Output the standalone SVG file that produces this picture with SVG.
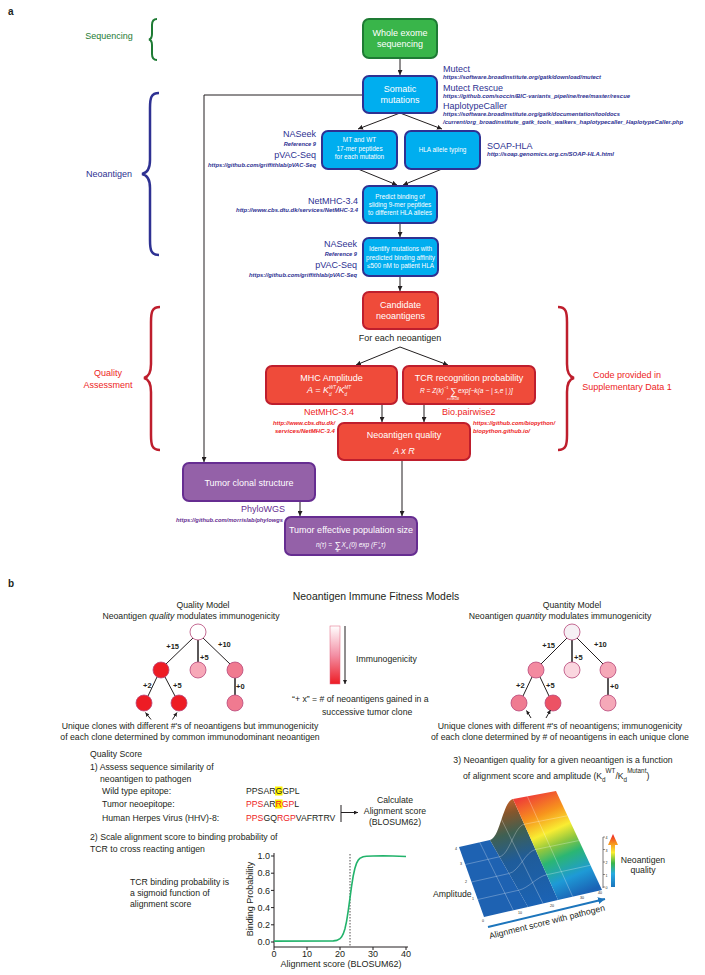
<svg xmlns="http://www.w3.org/2000/svg" width="705" height="975" viewBox="0 0 705 975">
<style>
text{font-family:"Liberation Sans",Arial,Helvetica,sans-serif;}
.nt{fill:#fff;font-size:9px;text-anchor:middle}
.st{fill:#fff;font-size:6.4px;text-anchor:middle}
.bl{fill:#2e3192;font-size:9px}
.url{fill:#2e3192;font-size:5.7px;font-style:italic;font-weight:bold}
.rd{fill:#ed1c24;font-size:9px}
.rurl{fill:#ed1c24;font-size:5.7px;font-style:italic;font-weight:bold}
.pu{fill:#662d91;font-size:9px}
.purl{fill:#662d91;font-size:5.7px;font-style:italic;font-weight:bold}
.g{fill:#39b54a;stroke:#1e7b34;stroke-width:2}
.b{fill:#00aeef;stroke:#2e3192;stroke-width:2}
.r{fill:#ef4b3a;stroke:#be1e2d;stroke-width:2}
.p{fill:#9461a8;stroke:#662d91;stroke-width:2}
.c{stroke:#231f20;stroke-width:1;fill:none}
.bt{font-size:8.7px;fill:#231f20}
.lbl{font-size:7.5px;font-weight:bold;fill:#231f20}
.nd{stroke:#b8477a;stroke-width:0.8}
.tk{font-size:9px;fill:#231f20}
.grid{stroke:#fff;stroke-opacity:0.55;stroke-width:0.5;fill:none}
.tiny{font-size:3.6px;fill:#231f20}
</style>
<defs>
<marker id="ah" viewBox="0 0 10 10" refX="10" refY="5" markerWidth="5" markerHeight="5" markerUnits="userSpaceOnUse" orient="auto"><path d="M0,0L10,5L0,10z" fill="#231f20"/></marker>
<marker id="ahs" viewBox="0 0 10 10" refX="10" refY="5" markerWidth="4" markerHeight="4" markerUnits="userSpaceOnUse" orient="auto"><path d="M0,0L10,5L0,10z" fill="#231f20"/></marker>
<marker id="ahb" viewBox="0 0 10 10" refX="10" refY="5" markerWidth="7" markerHeight="7" markerUnits="userSpaceOnUse" orient="auto"><path d="M0,0L10,5L0,10z" fill="#1c75bc"/></marker>
<linearGradient id="immg" x1="0" y1="0" x2="0" y2="1"><stop offset="0" stop-color="#ffffff"/><stop offset="0.5" stop-color="#f390a5"/><stop offset="1" stop-color="#ed1c24"/></linearGradient>
<linearGradient id="plane" gradientUnits="userSpaceOnUse" x1="580" y1="895" x2="535" y2="793"><stop offset="0" stop-color="#1b63b5"/><stop offset="0.18" stop-color="#1e9ad6"/><stop offset="0.38" stop-color="#2bb673"/><stop offset="0.5" stop-color="#8dc63f"/><stop offset="0.63" stop-color="#f9ed32"/><stop offset="0.8" stop-color="#f7941d"/><stop offset="1" stop-color="#ef4136"/></linearGradient>
<linearGradient id="trans" gradientUnits="userSpaceOnUse" x1="540" y1="905" x2="510" y2="799"><stop offset="0" stop-color="#1b63b5"/><stop offset="0.45" stop-color="#1f5c9a"/><stop offset="0.7" stop-color="#3f6052"/><stop offset="0.88" stop-color="#85562c"/><stop offset="1" stop-color="#c0602a"/></linearGradient>
<linearGradient id="cbar" gradientUnits="userSpaceOnUse" x1="0" y1="887" x2="0" y2="834"><stop offset="0" stop-color="#1b75bc"/><stop offset="0.25" stop-color="#27aae1"/><stop offset="0.45" stop-color="#39b54a"/><stop offset="0.65" stop-color="#f9ed32"/><stop offset="0.82" stop-color="#f7941d"/><stop offset="1" stop-color="#ed1c24"/></linearGradient>
</defs>

<!-- ===== Part a ===== -->
<text x="8" y="15" font-weight="bold" font-size="10" fill="#231f20">a</text>

<g id="section-labels">
<text x="109" y="39" text-anchor="middle" fill="#1e7b34" font-size="9">Sequencing</text>
<path d="M157,19 C153,19 152,21 152,25 L152,34 C152,37 151,39 149,39.5 C151,40 152,42 152,45 L152,54 C152,58 153,60 157,60" fill="none" stroke="#1e7b34" stroke-width="2"/>
<text x="109" y="177" text-anchor="middle" fill="#2e3192" font-size="9">Neoantigen</text>
<path d="M159,93 C151,93 150,98 150,108 L150,160 C150,169 147,173 142,174 C147,175 150,179 150,188 L150,240 C150,250 151,255 159,255" fill="none" stroke="#2e3192" stroke-width="2.5"/>
<text x="108" y="376" text-anchor="middle" fill="#ed1c24" font-size="9">Quality</text>
<text x="108" y="388" text-anchor="middle" fill="#ed1c24" font-size="9">Assessment</text>
<path d="M160,307 C152,307 151,312 151,322 L151,364 C151,373 148,377 144,378 C148,379 151,383 151,392 L151,435 C151,445 152,450 160,450" fill="none" stroke="#be1e2d" stroke-width="2.5"/>
<text x="627" y="378" text-anchor="middle" fill="#ed1c24" font-size="9">Code provided in</text>
<text x="627" y="390" text-anchor="middle" fill="#ed1c24" font-size="9">Supplementary Data 1</text>
<path d="M558,307 C566,307 567,312 567,322 L567,364 C567,373 570,377 574,378 C570,379 567,383 567,392 L567,435 C567,445 566,450 558,450" fill="none" stroke="#be1e2d" stroke-width="2.5"/>
</g>

<g id="connectors">
<line class="c" x1="400" y1="59" x2="400" y2="75" marker-end="url(#ah)"/>
<line class="c" x1="400" y1="113" x2="358" y2="129" marker-end="url(#ah)"/>
<line class="c" x1="400" y1="113" x2="442" y2="129" marker-end="url(#ah)"/>
<line class="c" x1="358" y1="169" x2="397" y2="185" marker-end="url(#ah)"/>
<line class="c" x1="442" y1="169" x2="403" y2="185" marker-end="url(#ah)"/>
<line class="c" x1="400" y1="223" x2="400" y2="237" marker-end="url(#ah)"/>
<line class="c" x1="400" y1="276" x2="400" y2="291" marker-end="url(#ah)"/>
<line class="c" x1="400" y1="347" x2="356" y2="365" marker-end="url(#ah)"/>
<line class="c" x1="400" y1="347" x2="448" y2="365" marker-end="url(#ah)"/>
<line class="c" x1="382" y1="404" x2="382" y2="422" marker-end="url(#ah)"/>
<line class="c" x1="424" y1="404" x2="424" y2="422" marker-end="url(#ah)"/>
<line class="c" x1="402" y1="460" x2="402" y2="516" marker-end="url(#ah)"/>
<line class="c" x1="300" y1="501" x2="300" y2="516" marker-end="url(#ah)"/>
<polyline class="c" points="363,95 204,95 204,462" stroke-width="1.2" marker-end="url(#ah)"/>
</g>

<g id="node-wes">
<rect class="g" x="363" y="19" width="74" height="39" rx="6"/>
<text class="nt" x="400" y="35.5">Whole exome</text>
<text class="nt" x="400" y="46.5">sequencing</text>
</g>

<g id="node-somatic">
<rect class="b" x="363" y="76" width="74" height="37" rx="6"/>
<text class="nt" x="400" y="92">Somatic</text>
<text class="nt" x="400" y="103">mutations</text>
<text class="bl" x="443" y="72">Mutect</text>
<text class="url" x="443" y="79" textLength="158" lengthAdjust="spacingAndGlyphs">https://software.broadinstitute.org/gatk/download/mutect</text>
<text class="bl" x="443" y="91">Mutect Rescue</text>
<text class="url" x="443" y="97.5" textLength="187" lengthAdjust="spacingAndGlyphs">https://github.com/soccin/BIC-variants_pipeline/tree/master/rescue</text>
<text class="bl" x="443" y="109">HaplotypeCaller</text>
<text class="url" x="443" y="116" textLength="177" lengthAdjust="spacingAndGlyphs">https://software.broadinstitute.org/gatk/documentation/tooldocs</text>
<text class="url" x="443" y="124" textLength="240" lengthAdjust="spacingAndGlyphs">/current/org_broadinstitute_gatk_tools_walkers_haplotypecaller_HaplotypeCaller.php</text>
</g>

<g id="node-peptides">
<rect class="b" x="322" y="131" width="75" height="38" rx="6"/>
<text class="st" x="359.5" y="142">MT and WT</text>
<text class="st" x="359.5" y="150.5">17-mer peptides</text>
<text class="st" x="359.5" y="159">for each mutation</text>
<text class="bl" x="316" y="137" text-anchor="end">NASeek</text>
<text class="url" x="316" y="146" text-anchor="end">Reference 9</text>
<text class="bl" x="316" y="157.5" text-anchor="end">pVAC-Seq</text>
<text class="url" x="316" y="167" text-anchor="end" textLength="108" lengthAdjust="spacingAndGlyphs">https://github.com/griffithlab/pVAC-Seq</text>
</g>

<g id="node-hla">
<rect class="b" x="405" y="131" width="75" height="38" rx="6"/>
<text class="st" x="442.5" y="152">HLA allele typing</text>
<text class="bl" x="487" y="149">SOAP-HLA</text>
<text class="url" x="487" y="156" textLength="127" lengthAdjust="spacingAndGlyphs">http://soap.genomics.org.cn/SOAP-HLA.html</text>
</g>

<g id="node-predict">
<rect class="b" x="363" y="186" width="74" height="37" rx="6"/>
<text class="st" x="400" y="198.5">Predict binding of</text>
<text class="st" x="400" y="206.5">sliding 9-mer peptides</text>
<text class="st" x="400" y="215">to different HLA alleles</text>
<text class="bl" x="358" y="204" text-anchor="end">NetMHC-3.4</text>
<text class="url" x="358" y="212" text-anchor="end" textLength="122" lengthAdjust="spacingAndGlyphs">http://www.cbs.dtu.dk/services/NetMHC-3.4</text>
</g>

<g id="node-identify">
<rect class="b" x="363" y="238" width="75" height="38" rx="6"/>
<text class="st" x="400.5" y="251">Identify mutations with</text>
<text class="st" x="400.5" y="259.5">predicted binding affinity</text>
<text class="st" x="400.5" y="268">≤500 nM to patient HLA</text>
<text class="bl" x="357" y="247" text-anchor="end">NASeek</text>
<text class="url" x="357" y="255.5" text-anchor="end">Reference 9</text>
<text class="bl" x="357" y="267.5" text-anchor="end">pVAC-Seq</text>
<text class="url" x="357" y="277" text-anchor="end" textLength="108" lengthAdjust="spacingAndGlyphs">https://github.com/griffithlab/pVAC-Seq</text>
</g>

<g id="node-candidate">
<rect class="r" x="363" y="292" width="75" height="37" rx="6"/>
<text class="nt" x="400.5" y="308">Candidate</text>
<text class="nt" x="400.5" y="319">neoantigens</text>
<text x="400" y="341" text-anchor="middle" font-size="9" fill="#231f20">For each neoantigen</text>
</g>

<g id="node-mhc">
<rect class="r" x="266" y="366" width="131" height="38" rx="6"/>
<text class="nt" x="331.5" y="381">MHC Amplitude</text>
<text x="307" y="393" fill="#fff" font-size="9" font-style="italic">A = K</text>
<text x="329" y="389" fill="#fff" font-size="4.5" font-style="italic">WT</text>
<text x="329" y="395.5" fill="#fff" font-size="4.5" font-style="italic">d</text>
<text x="336" y="393" fill="#fff" font-size="9" font-style="italic">/K</text>
<text x="344.5" y="389" fill="#fff" font-size="4.5" font-style="italic">MT</text>
<text x="344.5" y="395.5" fill="#fff" font-size="4.5" font-style="italic">d</text>
<text class="rd" x="329" y="414.5" text-anchor="middle">NetMHC-3.4</text>
<text class="rurl" x="335" y="425" text-anchor="end" textLength="62" lengthAdjust="spacingAndGlyphs">http://www.cbs.dtu.dk/</text>
<text class="rurl" x="335" y="433" text-anchor="end" textLength="60" lengthAdjust="spacingAndGlyphs">services/NetMHC-3.4</text>
</g>

<g id="node-tcr">
<rect class="r" x="403" y="366" width="132" height="38" rx="6"/>
<text class="nt" x="469" y="381">TCR recognition probability</text>
<text x="420" y="393" fill="#fff" font-size="6.6" font-style="italic">R = Z(k)</text>
<text x="444" y="389" fill="#fff" font-size="4">−1</text>
<text x="450" y="394.5" fill="#fff" font-size="10">∑</text>
<text x="453" y="399.5" fill="#fff" font-size="3.2" text-anchor="middle" font-style="italic">e∈IEDB</text>
<text x="458" y="393" fill="#fff" font-size="6.6" font-style="italic">exp[−k(a − | s,e | )]</text>
<text class="rd" x="442" y="414.5">Bio.pairwise2</text>
<text class="rurl" x="473" y="425" textLength="82" lengthAdjust="spacingAndGlyphs">https://github.com/biopython/</text>
<text class="rurl" x="473" y="433" textLength="57" lengthAdjust="spacingAndGlyphs">biopython.github.io/</text>
</g>

<g id="node-quality">
<rect class="r" x="338" y="423" width="132" height="37" rx="6"/>
<text class="nt" x="404" y="438">Neoantigen quality</text>
<text class="nt" x="404" y="454" font-style="italic">A x R</text>
</g>

<g id="node-clonal">
<rect class="p" x="183" y="463" width="132" height="38" rx="6"/>
<text class="nt" x="249" y="485.5">Tumor clonal structure</text>
<text class="pu" x="285" y="511.5" text-anchor="end">PhyloWGS</text>
<text class="purl" x="283" y="522" text-anchor="end" textLength="107" lengthAdjust="spacingAndGlyphs">https://github.com/morrislab/phylowgs</text>
</g>

<g id="node-population">
<rect class="p" x="285" y="517" width="132" height="38" rx="6"/>
<text class="nt" x="351" y="533">Tumor effective population size</text>
<text x="316" y="547" fill="#fff" font-size="6.5" font-style="italic">n(τ) =</text>
<text x="334.5" y="548" fill="#fff" font-size="9">∑</text>
<text x="337.5" y="552" fill="#fff" font-size="3.5" text-anchor="middle" font-style="italic">α</text>
<text x="341.5" y="547" fill="#fff" font-size="6.5" font-style="italic">X</text>
<text x="346" y="549" fill="#fff" font-size="3.5" font-style="italic">α</text>
<text x="349" y="547" fill="#fff" font-size="6.5" font-style="italic"> (0) exp (F</text>
<text x="378.5" y="544" fill="#fff" font-size="3.5" font-style="italic">t</text>
<text x="378.5" y="549" fill="#fff" font-size="3.5" font-style="italic">α</text>
<text x="381" y="547" fill="#fff" font-size="6.5" font-style="italic"> τ)</text>
</g>

<!-- ===== Part b ===== -->
<text x="8" y="587" font-weight="bold" font-size="10" fill="#231f20">b</text>
<text x="376" y="600" text-anchor="middle" font-size="10.4" fill="#231f20">Neoantigen Immune Fitness Models</text>

<g id="quality-model">
<text class="bt" x="203" y="608" text-anchor="middle">Quality Model</text>
<text class="bt" x="191" y="619" text-anchor="middle">Neoantigen <tspan font-style="italic">quality</tspan> modulates immunogenicity</text>
<g stroke="#231f20" stroke-width="1">
<line x1="193" y1="638" x2="166" y2="664"/>
<line x1="198" y1="640" x2="198" y2="662" stroke-width="1.5"/>
<line x1="203" y1="638" x2="230" y2="664"/>
<line x1="157" y1="677" x2="148" y2="696"/>
<line x1="165" y1="677" x2="175" y2="696"/>
<line x1="235" y1="678" x2="235" y2="695" stroke-width="1.5"/>
</g>
<circle class="nd" cx="198" cy="632" r="8" fill="#ffffff"/>
<circle class="nd" cx="161" cy="670" r="8" fill="#ed1c24"/>
<circle class="nd" cx="198" cy="670" r="8" fill="#f7a8b8"/>
<circle class="nd" cx="235" cy="670" r="8" fill="#f07a90"/>
<circle class="nd" cx="144" cy="703" r="8" fill="#ed1c24"/>
<circle class="nd" cx="179" cy="703" r="8" fill="#ed1c24"/>
<circle class="nd" cx="235" cy="703" r="8" fill="#f07a90"/>
<text class="lbl" x="179" y="649" text-anchor="end">+15</text>
<text class="lbl" x="200" y="660">+5</text>
<text class="lbl" x="218" y="647">+10</text>
<text class="lbl" x="143" y="688">+2</text>
<text class="lbl" x="173" y="688">+5</text>
<text class="lbl" x="236" y="689">+0</text>
<line class="c" x1="151" y1="719.5" x2="145.5" y2="712.5" marker-end="url(#ahs)"/>
<line class="c" x1="172.5" y1="719.5" x2="177" y2="712.5" marker-end="url(#ahs)"/>
<text class="bt" x="190" y="729" text-anchor="middle">Unique clones with different #'s of neoantigens but immunogenicity</text>
<text class="bt" x="190" y="740" text-anchor="middle">of each clone determined by common immunodominant neoantigen</text>
</g>

<g id="legend">
<rect x="330" y="626" width="10" height="58" fill="url(#immg)" stroke="#e0607e" stroke-width="0.5"/>
<line class="c" x1="345" y1="626" x2="345" y2="684" marker-end="url(#ahs)"/>
<text class="bt" x="356" y="662">Immunogenicity</text>
<text class="bt" x="292" y="702">“+ x” =  # of neoantigens gained in a</text>
<text class="bt" x="322" y="715">successive tumor clone</text>
</g>

<g id="quantity-model">
<text class="bt" x="572" y="608" text-anchor="middle">Quantity Model</text>
<text class="bt" x="560" y="619" text-anchor="middle">Neoantigen <tspan font-style="italic">quantity</tspan> modulates immunogenicity</text>
<g stroke="#231f20" stroke-width="1">
<line x1="567" y1="638" x2="541" y2="664"/>
<line x1="572" y1="640" x2="572" y2="662" stroke-width="1.5"/>
<line x1="577" y1="638" x2="603" y2="664"/>
<line x1="532" y1="677" x2="523" y2="696"/>
<line x1="540" y1="677" x2="549" y2="696"/>
<line x1="608" y1="678" x2="608" y2="695" stroke-width="1.5"/>
</g>
<circle class="nd" cx="572" cy="632" r="8" fill="#f6f0f4"/>
<circle class="nd" cx="536" cy="670" r="8" fill="#f38aa0"/>
<circle class="nd" cx="572" cy="670" r="8" fill="#fad6df"/>
<circle class="nd" cx="608" cy="670" r="8" fill="#f5a8b8"/>
<circle class="nd" cx="519" cy="703" r="8" fill="#ef7b91"/>
<circle class="nd" cx="553" cy="703" r="8" fill="#ec5264"/>
<circle class="nd" cx="608" cy="703" r="8" fill="#f5a8b8"/>
<text class="lbl" x="555" y="648" text-anchor="end">+15</text>
<text class="lbl" x="574" y="660">+5</text>
<text class="lbl" x="594" y="647">+10</text>
<text class="lbl" x="516" y="688">+2</text>
<text class="lbl" x="546" y="688">+5</text>
<text class="lbl" x="610" y="689">+0</text>
<line class="c" x1="531" y1="718" x2="526.5" y2="710.5" marker-end="url(#ahs)"/>
<line class="c" x1="546" y1="718" x2="550.5" y2="710" marker-end="url(#ahs)"/>
<text class="bt" x="560" y="729" text-anchor="middle">Unique clones with different #'s of neoantigens; immunogenicity</text>
<text class="bt" x="560" y="740" text-anchor="middle">of each clone determined by # of neoantigens in each unique clone</text>
</g>

<g id="quality-score">
<text class="bt" x="90" y="757">Quality Score</text>
<text class="bt" x="90" y="770">1) Assess sequence similarity of</text>
<text class="bt" x="100" y="782">neoantigen to pathogen</text>
<text class="bt" x="102" y="794">Wild type epitope:</text>
<text class="bt" x="102" y="807">Tumor neoepitope:</text>
<text class="bt" x="102" y="821">Human Herpes Virus (HHV)-8:</text>
<rect x="275" y="786.5" width="7.5" height="9" fill="#fff200"/>
<rect x="275" y="799.5" width="7.5" height="9" fill="#fff200"/>
<text class="bt" x="246" y="794">PPSARGGPL</text>
<text class="bt" x="246" y="807"><tspan fill="#ed1c24">PPS</tspan>AR<tspan fill="#ed1c24">RGP</tspan>L</text>
<text class="bt" x="246" y="821"><tspan fill="#ed1c24">PPS</tspan>GQ<tspan fill="#ed1c24">RGP</tspan>VAFRTRV</text>
<line class="c" x1="341" y1="805" x2="341" y2="822"/>
<line class="c" x1="341" y1="812.5" x2="358" y2="812.5" marker-end="url(#ahs)"/>
<text class="bt" x="395" y="803" text-anchor="middle">Calculate</text>
<text class="bt" x="395" y="813.5" text-anchor="middle">Alignment score</text>
<text class="bt" x="395" y="825" text-anchor="middle">(BLOSUM62)</text>
<text class="bt" x="90" y="840">2) Scale alignment score to binding probability of</text>
<text class="bt" x="90" y="852">TCR to cross reacting antigen</text>
<text class="bt" x="130" y="885">TCR binding probability is</text>
<text class="bt" x="130" y="896">a sigmoid function of</text>
<text class="bt" x="130" y="907">alignment score</text>
</g>

<g id="sigmoid-plot">
<line class="c" x1="274" y1="853" x2="274" y2="947"/>
<line class="c" x1="274" y1="947" x2="408" y2="947"/>
<g stroke="#231f20" stroke-width="1">
<line x1="271" y1="942" x2="274" y2="942"/><line x1="271" y1="924.8" x2="274" y2="924.8"/><line x1="271" y1="907.6" x2="274" y2="907.6"/><line x1="271" y1="890.4" x2="274" y2="890.4"/><line x1="271" y1="873.2" x2="274" y2="873.2"/><line x1="271" y1="856" x2="274" y2="856"/>
<line x1="274" y1="947" x2="274" y2="950"/><line x1="307" y1="947" x2="307" y2="950"/><line x1="340" y1="947" x2="340" y2="950"/><line x1="373" y1="947" x2="373" y2="950"/><line x1="406" y1="947" x2="406" y2="950"/>
</g>
<g class="tk" text-anchor="end">
<text x="270" y="945.2">0.0</text><text x="270" y="928">0.2</text><text x="270" y="910.8">0.4</text><text x="270" y="893.6">0.6</text><text x="270" y="876.4">0.8</text><text x="270" y="859.2">1.0</text>
</g>
<g class="tk" text-anchor="middle">
<text x="274" y="956.5">0</text><text x="307" y="956.5">10</text><text x="340" y="956.5">20</text><text x="373" y="956.5">30</text><text x="406" y="956.5">40</text>
</g>
<line x1="350" y1="854" x2="350" y2="947" stroke="#231f20" stroke-width="0.8" stroke-dasharray="1.5,1.5"/>
<polyline fill="none" stroke="#22b36b" stroke-width="1.6" points="274,941.1 333.4,940.9 336.7,940.4 340,938.7 341.65,936.8 343.3,933.7 344.95,928.7 346.6,921.1 348.25,910.7 349.9,898.6 351.55,886.4 353.2,876 354.85,868.5 356.5,863.4 358.15,860.3 359.8,858.4 363.1,856.8 366.4,856.3 373,856 382.9,855.8 392.8,856 406,856.5"/>
<text class="tk" transform="translate(253,899) rotate(-90)" text-anchor="middle" font-size="9.5">Binding Probability</text>
<text class="tk" x="341" y="967" text-anchor="middle">Alignment score (BLOSUM62)</text>
</g>

<g id="surface-plot">
<text class="bt" x="563" y="763" text-anchor="middle">3) Neoantigen quality for a given neoantigen is a function</text>
<text class="bt" x="463" y="779">of alignment score and amplitude (K<tspan dy="3" font-size="6.3">d</tspan><tspan dy="-9.5" font-size="6.3">WT</tspan><tspan dy="6.5">/K</tspan><tspan dy="3" font-size="6.3">d</tspan><tspan dy="-9.5" font-size="6.3">Mutant</tspan><tspan dy="6.5">)</tspan></text>
<path d="M484,917 L528,907 L490,840 L459,847 Z" fill="#1e62b2"/>
<path d="M528,907 L558,900 L513,799 C503,801 500,838 490,840 Z" fill="url(#trans)"/>
<path d="M558,900 L602,890 L556,791 L513,799 Z" fill="url(#plane)"/>
<path class="grid" d="M477.75,899.5 L518.5,890.25 C528.5,888.25 536.75,876.75 546.75,874.75 L590.5,865.25"/>
<path class="grid" d="M471.5,882 L509,873.5 C519,871.5 525.5,851.5 535.5,849.5 L579,840.5"/>
<path class="grid" d="M465.25,864.5 L499.5,856.75 C509.5,854.75 514.25,826.25 524.25,824.25 L567.5,815.75"/>
<path class="grid" d="M513.3,910.3 L479.7,842.3"/>
<path class="grid" d="M543,903.5 L501.5,819.5"/>
<path class="grid" d="M572.7,896.7 L527.3,796.3"/>
<g class="tiny" text-anchor="end">
<text x="457" y="850">4</text><text x="462" y="865">3</text><text x="467" y="883">2</text><text x="474" y="900">1</text><text x="484" y="922">0</text>
</g>
<g class="tiny" text-anchor="middle">
<text x="520" y="914">10</text><text x="552" y="907">20</text><text x="582" y="899">30</text><text x="600" y="894">40</text>
</g>
<line x1="603" y1="837" x2="603" y2="888" stroke="#231f20" stroke-width="0.6"/>
<g stroke="#231f20" stroke-width="0.5">
<line x1="603" y1="837" x2="605" y2="837"/><line x1="603" y1="849.5" x2="605" y2="849.5"/><line x1="603" y1="862" x2="605" y2="862"/><line x1="603" y1="874.5" x2="605" y2="874.5"/><line x1="603" y1="887" x2="605" y2="887"/>
</g>
<g class="tiny" font-size="3">
<text x="605.5" y="839">4</text><text x="605.5" y="851.5">3</text><text x="605.5" y="864">2</text><text x="605.5" y="876.5">1</text><text x="605.5" y="889">0</text>
</g>
<path d="M611,887 L611,845 L608,845 L613,834 L618,845 L615,845 L615,887 Z" fill="url(#cbar)"/>
<text class="bt" x="643" y="863" text-anchor="middle">Neoantigen</text>
<text class="bt" x="643" y="873" text-anchor="middle">quality</text>
<text class="bt" x="433" y="897">Amplitude</text>
<line x1="488" y1="927" x2="605" y2="899" stroke="#1c75bc" stroke-width="2" marker-end="url(#ahb)"/>
<text class="bt" transform="translate(490,939) rotate(-13.9)">Alignment score with pathogen</text>
</g>
</svg>
